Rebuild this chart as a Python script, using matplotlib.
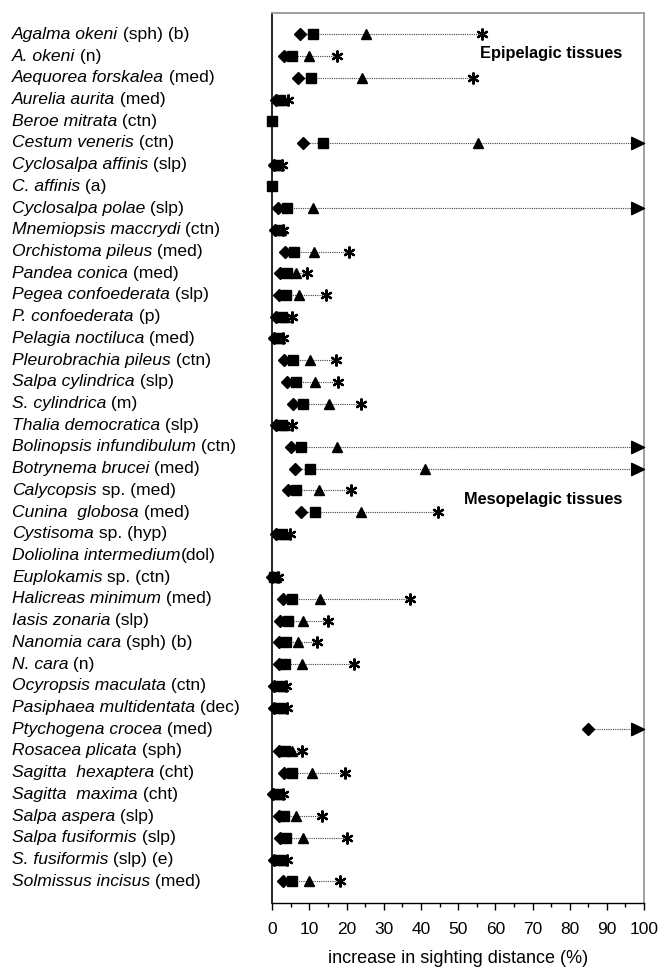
import numpy as np
import matplotlib
matplotlib.use("Agg")
import matplotlib.pyplot as plt
from matplotlib.path import Path
from matplotlib.ticker import MultipleLocator

plt.rcParams['font.family'] = ['Liberation Sans', 'DejaVu Sans']

nan = np.nan

species_it = ["Agalma okeni", "A. okeni", "Aequorea forskalea", "Aurelia aurita",
              "Beroe mitrata", "Cestum veneris", "Cyclosalpa affinis", "C. affinis",
              "Cyclosalpa polae", "Mnemiopsis maccrydi", "Orchistoma pileus",
              "Pandea conica", "Pegea confoederata", "P. confoederata",
              "Pelagia noctiluca", "Pleurobrachia pileus", "Salpa cylindrica",
              "S. cylindrica", "Thalia democratica", "Bolinopsis infundibulum",
              "Botrynema brucei", "Calycopsis", "Cunina  globosa", "Cystisoma",
              "Doliolina intermedium", "Euplokamis", "Halicreas minimum",
              "Iasis zonaria", "Nanomia cara", "N. cara", "Ocyropsis maculata",
              "Pasiphaea multidentata", "Ptychogena crocea", "Rosacea plicata",
              "Sagitta  hexaptera", "Sagitta  maxima", "Salpa aspera",
              "Salpa fusiformis", "S. fusiformis", "Solmissus incisus"]
species_rm = [" (sph) (b)", " (n)", " (med)", " (med)", " (ctn)", " (ctn)", " (slp)",
              " (a)", " (slp)", " (ctn)", " (med)", " (med)", " (slp)", " (p)",
              " (med)", " (ctn)", " (slp)", " (m)", " (slp)", " (ctn)", " (med)",
              " sp. (med)", " (med)", " sp. (hyp)", "(dol)", " sp. (ctn)", " (med)",
              " (slp)", " (sph) (b)", " (n)", " (ctn)", " (dec)", " (med)", " (sph)",
              " (cht)", " (cht)", " (slp)", " (slp)", " (slp) (e)", " (med)"]

diamond = [7.4, 3.1, 7.0, 1.0, nan, 8.2, 0.5, nan, 1.6, 0.8,
           3.4, 2.1, 1.8, 1.0, 0.5, 3.1, 4.0, 5.5, 1.0, 5.0,
           6.1, 4.1, 7.7, 1.0, nan, 0.0, 3.0, 2.2, 1.9, 1.8,
           0.5, 0.5, 85.0, 1.8, 3.1, 0.3, 1.8, 2.0, 0.5, 3.0]
square = [11.0, 5.2, 10.3, 2.0, 0.0, 13.7, 1.2, 0.0, 3.9, 1.8,
          5.7, 3.9, 3.7, 2.5, 1.5, 5.5, 6.4, 8.2, 2.5, 7.7,
          10.1, 6.4, 11.5, 2.5, nan, 0.4, 5.2, 4.3, 3.7, 3.4,
          2.0, 2.0, nan, 3.4, 5.4, 1.2, 3.1, 3.7, 2.0, 5.2]
triangle = [25.2, 9.9, 24.2, 3.0, nan, 55.4, 1.8, nan, 11.0, 2.4,
            11.3, 6.3, 7.3, 3.5, 2.2, 10.1, 11.5, 15.2, 3.5, 17.5,
            41.2, 12.6, 23.8, 3.5, nan, 0.9, 12.8, 8.3, 7.0, 8.1,
            2.8, 3.0, nan, 5.4, 10.8, 2.0, 6.3, 8.3, 3.0, 9.9]
asterisk = [56.3, 17.3, 53.9, 4.3, nan, nan, 2.5, nan, nan, 3.0,
            20.7, 9.4, 14.4, 5.2, 3.0, 17.1, 17.6, 23.8, 5.4, nan,
            nan, 21.3, 44.6, 4.8, nan, 1.4, 37.0, 15.1, 11.9, 22.0,
            3.7, 3.9, nan, 8.1, 19.5, 2.9, 13.3, 20.0, 3.9, 18.2]
beyond_100 = [False, False, False, False, False, True, False, False, True, False,
              False, False, False, False, False, False, False, False, False, True,
              True, False, False, False, False, False, False, False, False, False,
              False, False, True, False, False, False, False, False, False, False]

n = len(species_it)
rows = np.arange(1, n + 1)

fig = plt.figure(figsize=(6.6, 9.67), dpi=100)
ax = fig.add_axes([0.4126, 0.0662, 0.9758 - 0.4126, 0.9869 - 0.0662])
ax.set_xlim(0, 100)
ax.set_ylim(n + 1, 0)

# arrow marker with tip at the data point
arrow = Path([(0, 0), (-1.0, 0.48), (-1.0, -0.48), (0, 0)],
             [Path.MOVETO, Path.LINETO, Path.LINETO, Path.CLOSEPOLY])

D = np.array(diamond); S = np.array(square); T = np.array(triangle); A = np.array(asterisk)
for i in range(n):
    vals = np.array([D[i], S[i], T[i], A[i]])
    vals = vals[~np.isnan(vals)]
    if vals.size == 0:
        continue
    lo = vals.min()
    hi = 100.0 if beyond_100[i] else vals.max()
    if hi > lo:
        ax.plot([lo, hi], [rows[i], rows[i]], linestyle=(0, (1, 1.0)),
                color='#444444', lw=0.8, zorder=1, clip_on=False)
    if beyond_100[i]:
        ax.plot([100], [rows[i]], marker=arrow, markersize=18.5, color='black',
                linestyle='none', zorder=3, clip_on=False)

ax.plot(A, rows, linestyle='none', marker=(6, 2, 0), markersize=8.5,
        markeredgewidth=1.6, color='black', zorder=2, clip_on=False)
ax.plot(T, rows, linestyle='none', marker='^', markersize=7.5, color='black',
        zorder=3, clip_on=False)
ax.plot(S, rows, linestyle='none', marker='s', markersize=6.8, color='black',
        zorder=4, clip_on=False)
ax.plot(D, rows, linestyle='none', marker='D', markersize=5.9, color='black',
        zorder=5, clip_on=False)

# spines
for s in ['top', 'right']:
    ax.spines[s].set_color('#999999')
    ax.spines[s].set_linewidth(1.3)
ax.spines['left'].set_color('black')
ax.spines['left'].set_linewidth(1.2)
ax.spines['bottom'].set_color('black')
ax.spines['bottom'].set_linewidth(1.0)

ax.set_yticks([])
ax.xaxis.set_major_locator(MultipleLocator(10))
ax.xaxis.set_minor_locator(MultipleLocator(5))
ax.tick_params(axis='x', which='major', direction='out', length=5, width=1,
               labelsize=12.5, pad=9, colors='black')
ax.tick_params(axis='x', which='minor', direction='out', length=3, width=1)
ax.set_xlabel("increase in sighting distance (%)", fontsize=13, labelpad=9)

ax.text(55.8, 1.87, "Epipelagic tissues", fontsize=11.8, fontweight='bold',
        ha='left', va='center')
ax.text(51.5, 22.4, "Mesopelagic tissues", fontsize=11.8, fontweight='bold',
        ha='left', va='center')

# species labels: italic name + upright suffix
fig.canvas.draw()
renderer = fig.canvas.get_renderer()
x0_fig = 12.0 / 660.0
for i in range(n):
    y_disp = ax.transData.transform((0, rows[i]))[1]
    y_fig = fig.transFigure.inverted().transform((0, y_disp))[1]
    t1 = fig.text(x0_fig, y_fig, species_it[i], fontsize=12.6, style='italic',
                  ha='left', va='center')
    bb = t1.get_window_extent(renderer)
    x1_fig = fig.transFigure.inverted().transform((bb.x1, 0))[0]
    fig.text(x1_fig, y_fig, species_rm[i], fontsize=12.6, ha='left', va='center')

fig.savefig("out.png", dpi=100)
